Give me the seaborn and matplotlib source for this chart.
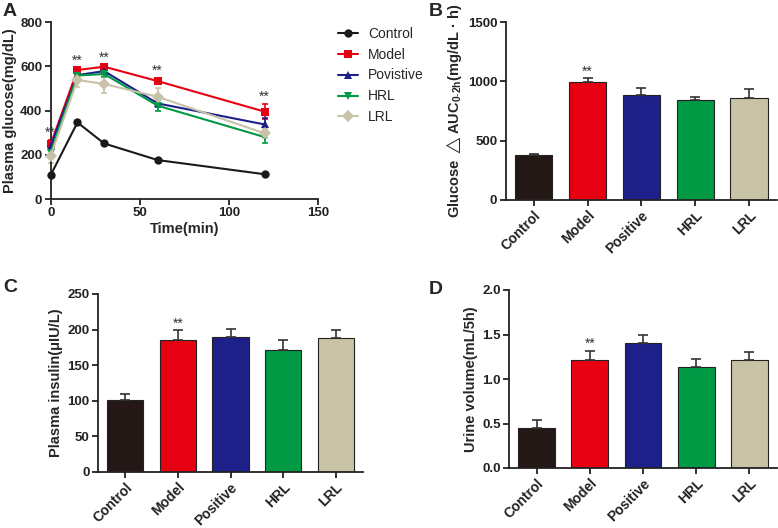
import numpy as np
import pandas as pd
import matplotlib
matplotlib.use("Agg")
import matplotlib.pyplot as plt
import seaborn as sns

# ---------------- data ----------------
times = [0, 15, 30, 60, 120]
line_groups = ["Control", "Model", "Povistive", "HRL", "LRL"]
glu_control = [108, 346, 251, 176, 112]
glu_model = [247, 583, 598, 533, 395]
glu_positive = [240, 560, 578, 432, 337]
glu_hrl = [210, 558, 565, 422, 280]
glu_lrl = [196, 538, 520, 462, 297]
err_control = [5, 6, 6, 5, 5]
err_model = [20, 10, 8, 15, 35]
err_positive = [15, 12, 10, 15, 30]
err_hrl = [15, 15, 15, 25, 25]
err_lrl = [35, 30, 40, 40, 20]

bar_groups = ["Control", "Model", "Positive", "HRL", "LRL"]
auc_vals = [379, 992, 885, 843, 857]
auc_err = [10, 33, 56, 25, 81]
ins_vals = [101, 185, 189, 171, 188]
ins_err = [8, 14, 12, 14, 12]
urine_vals = [0.45, 1.215, 1.41, 1.13, 1.215]
urine_err = [0.09, 0.105, 0.08, 0.095, 0.09]

colors = ["#231815", "#E60012", "#1D2088", "#009944", "#C9C3A5"]
line_colors = ["#1a1a1a", "#E60012", "#1D2088", "#009944", "#C8C2A8"]
markers = ["o", "s", "^", "v", "D"]

# ---------------- style ----------------
sns.set_theme(style="ticks")
plt.rcParams["font.family"] = ["Liberation Sans", "DejaVu Sans"]
plt.rcParams["mathtext.fontset"] = "custom"
plt.rcParams["mathtext.bf"] = "Liberation Sans:bold"
plt.rcParams["mathtext.rm"] = "Liberation Sans"
plt.rcParams["mathtext.fallback"] = "stixsans"
plt.rcParams["axes.linewidth"] = 1.3
plt.rcParams["xtick.major.width"] = 1.3
plt.rcParams["ytick.major.width"] = 1.3
plt.rcParams["xtick.major.size"] = 4
plt.rcParams["ytick.major.size"] = 4
plt.rcParams["xtick.color"] = "#222222"
plt.rcParams["ytick.color"] = "#222222"
plt.rcParams["axes.edgecolor"] = "#222222"

W, H = 778, 528
fig = plt.figure(figsize=(W / 100, H / 100), dpi=100)


def px_axes(l, t, r, b):
    return fig.add_axes([l / W, 1 - b / H, (r - l) / W, (b - t) / H])


def style_ax(ax):
    sns.despine(ax=ax)
    for lab in ax.get_xticklabels() + ax.get_yticklabels():
        lab.set_fontweight("bold")


# ---------------- panel A ----------------
axA = px_axes(50.7, 22, 318, 199)
series = [glu_control, glu_model, glu_positive, glu_hrl, glu_lrl]
errs = [err_control, err_model, err_positive, err_hrl, err_lrl]
df = pd.DataFrame({
    "time": np.tile(times, len(line_groups)),
    "glucose": np.concatenate(series),
    "group": np.repeat(line_groups, len(times)),
})
pal = dict(zip(line_groups, line_colors))
mk = dict(zip(line_groups, markers))
sns.lineplot(data=df, x="time", y="glucose", hue="group", style="group",
             markers=mk, dashes=False, palette=pal, ax=axA, linewidth=1.5,
             markersize=6, markeredgewidth=0, legend=True, clip_on=False,
             zorder=3)
for g, s, e, c in zip(line_groups, series, errs, line_colors):
    axA.errorbar(times, s, yerr=e, fmt="none", ecolor=c, elinewidth=1.2,
                 capsize=2.5, capthick=1.2, clip_on=False, zorder=2)
for t, v, e in zip(times, glu_model, err_model):
    axA.annotate("**", (t, v + e), xytext=(0, 0), textcoords="offset points",
                 ha="center", va="bottom", fontsize=10, color="#333333")
axA.set_xlim(0, 150)
axA.set_ylim(0, 800)
axA.set_xticks([0, 50, 100, 150])
axA.set_yticks([0, 200, 400, 600, 800])
axA.tick_params(labelsize=9.5, pad=2)
axA.set_xlabel("Time(min)", fontsize=10.5, fontweight="bold", labelpad=2)
axA.set_ylabel("Plasma glucose(mg/dL)", fontsize=10.5, fontweight="bold", labelpad=2)
style_ax(axA)
handles, labels = axA.get_legend_handles_labels()
axA.get_legend().remove()
fig.legend(handles, labels, loc="upper left", bbox_to_anchor=(332 / W, 1 - 21 / H),
           frameon=False, fontsize=10, handlelength=1.5, handletextpad=0.7,
           labelspacing=0.5, borderaxespad=0)


# ---------------- bar panels ----------------
def bar_panel(ax, vals, err, ylim, yticks, ylabel, yfmt=None):
    d = pd.DataFrame({"group": bar_groups, "value": vals})
    sns.barplot(data=d, x="group", y="value", hue="group", palette=colors,
                saturation=1, errorbar=None, width=0.69, edgecolor="#222222",
                linewidth=0.8, ax=ax, legend=False, zorder=2)
    x = np.arange(len(bar_groups))
    ax.errorbar(x, vals, yerr=[np.zeros(len(vals)), err], fmt="none",
                ecolor="#333333", elinewidth=1.2, capsize=3.5, capthick=1.2, zorder=3)
    ax.annotate("**", (1, vals[1] + err[1]), xytext=(0, 0),
                textcoords="offset points", ha="center", va="bottom",
                fontsize=10, color="#333333")
    ax.set_xlim(-0.52, 4.52)
    ax.set_ylim(*ylim)
    ax.set_yticks(yticks)
    if yfmt:
        ax.set_yticklabels([yfmt.format(v) for v in yticks])
    ax.set_xlabel("")
    ax.set_ylabel(ylabel, fontsize=10.5, fontweight="bold", labelpad=3)
    ax.tick_params(axis="y", labelsize=9.5, pad=2)
    ax.tick_params(axis="x", labelsize=10, pad=2)
    ax.set_xticks(x)
    ax.set_xticklabels(bar_groups, rotation=45, ha="right", rotation_mode="anchor")
    style_ax(ax)


axB = px_axes(505.7, 22, 777, 200)
bar_panel(axB, auc_vals, auc_err, (0, 1500), [0, 500, 1000, 1500],
          "Glucose $\\triangle$AUC$_{\\mathbf{0\\text{-}2h}}$(mg/dL \u00b7 h)")

axC = px_axes(98, 294, 363, 472)
bar_panel(axC, ins_vals, ins_err, (0, 250), [0, 50, 100, 150, 200, 250],
          "Plasma insulin(\u03bcIU/L)")

axD = px_axes(509, 290, 777, 468)
bar_panel(axD, urine_vals, urine_err, (0, 2.0), [0, 0.5, 1.0, 1.5, 2.0],
          "Urine volume(mL/5h)", yfmt="{:.1f}")

# ---------------- panel letters ----------------
for letter, x, y in [("A", 3, 3), ("B", 429, 3), ("C", 3, 279), ("D", 429, 281)]:
    fig.text(x / W, 1 - y / H, letter, fontsize=14, fontweight="bold",
             ha="left", va="top")

fig.savefig("out.png", dpi=100)
